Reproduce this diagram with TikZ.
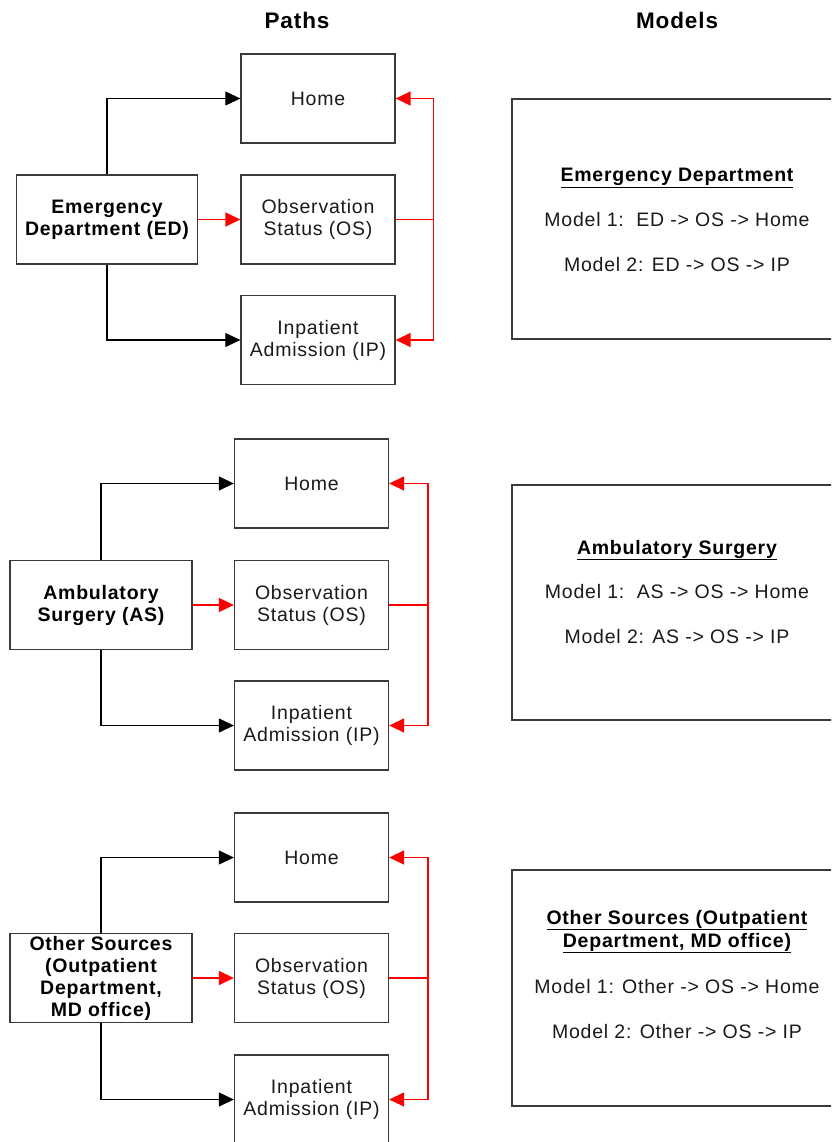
\documentclass[tikz,border=0pt]{standalone}
\usepackage{fontspec}
\setmainfont{Liberation Sans}[LetterSpace=4]
\usetikzlibrary{arrows.meta}
\definecolor{boxgray}{HTML}{3A3A3A}
\definecolor{redline}{HTML}{FF0000}
\definecolor{txt}{HTML}{1A1A1A}
\tikzset{
  pbox/.style={draw=boxgray, line width=1.3pt, minimum width=154pt, minimum height=89pt,
    inner sep=0pt, align=center, text=txt, font=\fontsize{19.5}{22}\selectfont},
  srcbox/.style={draw=boxgray, line width=1.3pt, minimum width=182pt, minimum height=89pt,
    inner sep=0pt, align=center, font=\bfseries\fontsize{19.5}{22}\selectfont},
  mbox/.style={draw=boxgray, line width=1.3pt, minimum width=330pt, inner sep=0pt},
  mtitle/.style={align=center, font=\bfseries\fontsize{19.5}{23}\selectfont},
  mtext/.style={text=txt, font=\fontsize{19.5}{22}\selectfont},
  head/.style={font=\bfseries\fontsize{22.5}{26}\selectfont},
  blk/.style={draw=black, line width=1.1pt, -{Triangle[length=15pt,width=14pt]}},
  rdl/.style={draw=redline, line width=1.5pt},
  rda/.style={draw=redline, line width=1.5pt, -{Triangle[length=15pt,width=14pt]}},
}
\newcommand{\ul}[1]{\underline{#1}}
\begin{document}
\begin{tikzpicture}[x=1pt,y=-1pt]
\clip (0,0) rectangle (831,1142);
\useasboundingbox (0,0) rectangle (831,1142);

% headers
\node[head] (hpaths) at (297,20) {Paths};
\node[head] (hmodels) at (677,20) {Models};

% ---------- Section 1 ----------
\node[pbox] (home1) at (318,98.5) {Home};
\node[srcbox, minimum width=181pt] (ed) at (107,219.5) {Emergency\\Department (ED)};
\node[pbox] (os1) at (318,219.5) {Observation\\Status (OS)};
\node[pbox] (ip1) at (318,340) {Inpatient\\Admission (IP)};
\draw[blk] (ed.north) |- (home1.west);
\draw[blk] (ed.south) |- (ip1.west);
\draw[rda] (ed.east) -- (os1.west);
\draw[rdl] (os1.east) -- ++(38,0) coordinate (r1);
\draw[rda] (r1) |- (home1.east);
\draw[rda] (r1) |- (ip1.east);

\node[mbox, minimum height=240pt] (m1) at (677,219) {};
\node[mtitle] (m1t) at (677,178) {\ul{Emergency Department}};
\node[mtext] (m1a) at (677,220) {Model 1:\ \ ED -> OS -> Home};
\node[mtext] (m1b) at (677,265) {Model 2: ED -> OS -> IP};

% ---------- Section 2 ----------
\node[pbox] (home2) at (311.5,483.5) {Home};
\node[srcbox] (as) at (101,605) {Ambulatory\\Surgery (AS)};
\node[pbox] (os2) at (311.5,605) {Observation\\Status (OS)};
\node[pbox] (ip2) at (311.5,725.5) {Inpatient\\Admission (IP)};
\draw[blk] (as.north) |- (home2.west);
\draw[blk] (as.south) |- (ip2.west);
\draw[rda] (as.east) -- (os2.west);
\draw[rdl] (os2.east) -- ++(39,0) coordinate (r2);
\draw[rda] (r2) |- (home2.east);
\draw[rda] (r2) |- (ip2.east);

\node[mbox, minimum height=235pt] (m2) at (677,602.5) {};
\node[mtitle] (m2t) at (677,550) {\ul{Ambulatory Surgery}};
\node[mtext] (m2a) at (677,592) {Model 1:\ \ AS -> OS -> Home};
\node[mtext] (m2b) at (677,637) {Model 2: AS -> OS -> IP};

% ---------- Section 3 ----------
\node[pbox] (home3) at (311.5,857.5) {Home};
\node[srcbox] (oth) at (101,978) {Other Sources\\(Outpatient\\Department,\\MD office)};
\node[pbox] (os3) at (311.5,978) {Observation\\Status (OS)};
\node[pbox] (ip3) at (311.5,1099.5) {Inpatient\\Admission (IP)};
\draw[blk] (oth.north) |- (home3.west);
\draw[blk] (oth.south) |- (ip3.west);
\draw[rda] (oth.east) -- (os3.west);
\draw[rdl] (os3.east) -- ++(39,0) coordinate (r3);
\draw[rda] (r3) |- (home3.east);
\draw[rda] (r3) |- (ip3.east);

\node[mbox, minimum height=236pt] (m3) at (677,988) {};
\node[mtitle] (m3t) at (677,931.5) {\ul{Other Sources (Outpatient}\\\ul{Department, MD office)}};
\node[mtext] (m3a) at (677,987) {Model 1: Other -> OS -> Home};
\node[mtext] (m3b) at (677,1032) {Model 2: Other -> OS -> IP};
\end{tikzpicture}
\end{document}
